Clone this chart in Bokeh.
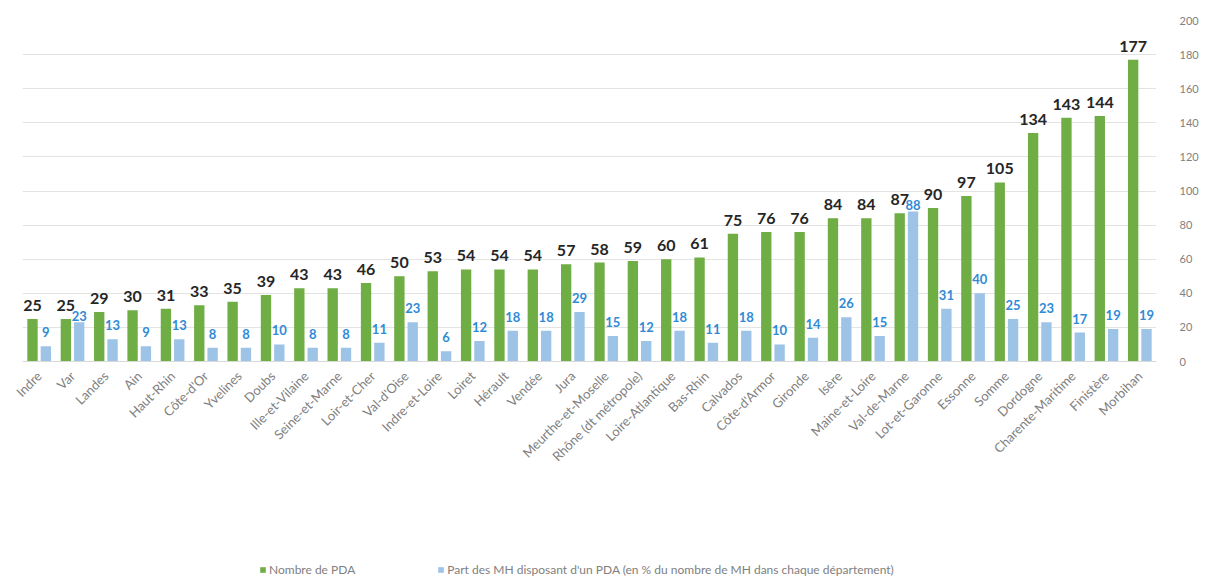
import math
from bokeh.plotting import figure
from bokeh.layouts import column
from bokeh.models import (ColumnDataSource, FactorRange, Range1d, SingleIntervalTicker,
                          Legend, LegendItem)
from bokeh.transform import dodge
from bokeh.core.properties import value
from bokeh.embed import file_html
from bokeh.resources import INLINE

departements = ["Indre", "Var", "Landes", "Ain", "Haut-Rhin", "Côte-d'Or", "Yvelines", "Doubs",
                "Ille-et-Vilaine", "Seine-et-Marne", "Loir-et-Cher", "Val-d'Oise", "Indre-et-Loire",
                "Loiret", "Hérault", "Vendée", "Jura", "Meurthe-et-Moselle", "Rhône (dt métropole)",
                "Loire-Atlantique", "Bas-Rhin", "Calvados", "Côte-d'Armor", "Gironde", "Isère",
                "Maine-et-Loire", "Val-de-Marne", "Lot-et-Garonne", "Essonne", "Somme", "Dordogne",
                "Charente-Maritime", "Finistère", "Morbihan"]
nombre_pda = [25, 25, 29, 30, 31, 33, 35, 39, 43, 43, 46, 50, 53, 54, 54, 54, 57, 58, 59, 60, 61,
              75, 76, 76, 84, 84, 87, 90, 97, 105, 134, 143, 144, 177]
part_mh = [9, 23, 13, 9, 13, 8, 8, 10, 8, 8, 11, 23, 6, 12, 18, 18, 29, 15, 12, 18, 11, 18, 10, 14,
           26, 15, 88, 31, 40, 25, 23, 17, 19, 19]
serie_labels = ["Nombre de PDA",
                "Part des MH disposant d'un PDA (en % du nombre de MH dans chaque département)"]

GREEN = "#6fad45"
BLUE = "#9dc3e6"
BLUE_TXT = "#2f8bd6"
GREY = "#808080"
FONT = "Lato"
W = 1201

# blue labels that would collide with the green one are pulled down
blue_off = [-1 if abs(g - b) < 5 else -9 for g, b in zip(nombre_pda, part_mh)]

src = ColumnDataSource(dict(
    dept=departements,
    green=nombre_pda,
    blue=part_mh,
    green_txt=[str(v) for v in nombre_pda],
    blue_txt=[str(v) for v in part_mh],
    blue_off=blue_off,
))

p = figure(width=W, height=560, x_range=FactorRange(*departements, range_padding=0),
           y_range=Range1d(0, 200), y_axis_location="right",
           output_backend="svg", toolbar_location=None,
           min_border_left=22, min_border_right=35, min_border_top=20, min_border_bottom=199)
p.outline_line_color = None
p.background_fill_color = "white"

p.vbar(x=dodge("dept", -0.2, range=p.x_range), top="green", width=0.31, source=src,
       fill_color=GREEN, line_color=None)
p.vbar(x=dodge("dept", 0.2, range=p.x_range), top="blue", width=0.31, source=src,
       fill_color=BLUE, line_color=None)

p.text(x=dodge("dept", -0.2, range=p.x_range), y="green", text="green_txt", source=src,
       text_align="center", text_baseline="bottom", y_offset=-8,
       text_font=value(FONT), text_font_style="bold", text_font_size="16px",
       text_color="#262626")
p.text(x=dodge("dept", 0.2, range=p.x_range), y="blue", text="blue_txt", source=src,
       text_align="center", text_baseline="bottom", y_offset="blue_off",
       text_font=value(FONT), text_font_style="bold", text_font_size="13px",
       text_color=BLUE_TXT)

# grid
p.xgrid.grid_line_color = None
p.ygrid.grid_line_color = "#e3e3e3"
p.ygrid.grid_line_width = 1
p.yaxis.ticker = SingleIntervalTicker(interval=20)
p.ygrid.ticker = SingleIntervalTicker(interval=20)

# y axis (right)
p.yaxis.axis_line_color = None
p.yaxis.major_tick_line_color = None
p.yaxis.minor_tick_line_color = None
p.yaxis.major_label_standoff = 17
p.yaxis.major_label_text_font = FONT
p.yaxis.major_label_text_font_size = "11px"
p.yaxis.major_label_text_color = GREY

# x axis
p.xaxis.axis_line_color = "#d9d9d9"
p.xaxis.major_tick_line_color = None
p.xaxis.minor_tick_line_color = None
p.xaxis.major_label_orientation = math.pi / 4
p.xaxis.major_label_standoff = 6
p.xaxis.major_label_text_font = FONT
p.xaxis.major_label_text_font_size = "13px"
p.xaxis.major_label_text_color = GREY

# legend strip below the chart
lg = figure(width=W, height=22, x_range=Range1d(0, W), y_range=Range1d(0, 1),
            output_backend="svg", toolbar_location=None, min_border=0,
            x_axis_location=None, y_axis_location=None)
lg.outline_line_color = None
lg.xgrid.visible = False
lg.ygrid.visible = False
# swatch renderers: one bar placed outside the visible range
swatch = ColumnDataSource(dict(x=[-1000], top=[-1000]))
k1 = lg.vbar(x="x", top="top", width=1, source=swatch, fill_color=GREEN, line_color=None)
k2 = lg.vbar(x="x", top="top", width=1, source=swatch, fill_color=BLUE, line_color=None)
legend = Legend(items=[LegendItem(label=serie_labels[0], renderers=[k1]),
                       LegendItem(label=serie_labels[1], renderers=[k2])],
                orientation="horizontal", location=(237, 5),
                padding=0, margin=0, spacing=82,
                glyph_width=7, glyph_height=7, label_standoff=3,
                label_height=12, label_text_font=FONT, label_text_font_size="12px",
                label_text_color=GREY, border_line_color=None, background_fill_alpha=0)
lg.add_layout(legend, "center")

layout = column(p, lg, spacing=0)
open("out.html", "w").write(file_html(layout, INLINE))
